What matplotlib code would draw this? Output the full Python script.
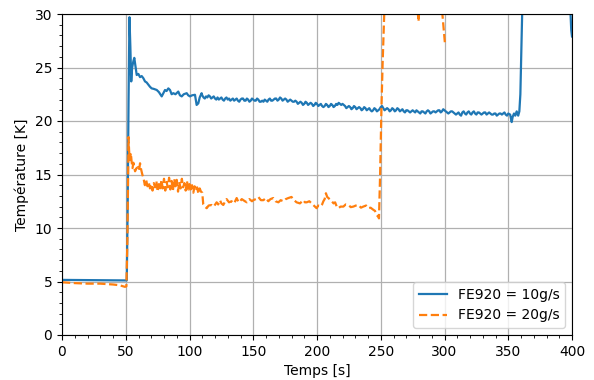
import matplotlib
matplotlib.use("Agg")
import matplotlib.pyplot as plt
from matplotlib.ticker import MultipleLocator

# FE920 = 10 g/s  (time in s, temperature in K)
t_10_start = [0, 10, 20, 30, 40, 50, 50.8, 51.5, 52.2, 52.9, 53.6, 54.3, 55, 56, 56.7, 57.5,
              58.6, 59.9, 61.2, 62.5, 63.8, 65.1, 66.4, 67.7, 69, 70.3, 72, 74.3, 76, 78.2,
              79.5, 80.8, 82, 83.4, 84.7, 86, 87.3, 89, 91.2, 92.5, 93.9, 95.5, 97.8, 99,
              100.4, 102, 104.3, 105.6, 106.9, 108, 109.5]
T_10_start = [5.15, 5.14, 5.13, 5.12, 5.11, 5.1, 5.1, 12.0, 22.0, 29.7, 27.0, 23.7, 25.0, 25.6, 25.9, 25.2,
              24.3, 24.4, 24.1, 24.2, 24.0, 23.7, 23.6, 23.4, 23.2, 23.05, 23.0, 22.9, 22.7, 22.3,
              22.6, 22.9, 22.8, 23.05, 22.9, 22.5, 22.6, 22.5, 22.75, 22.4, 22.3, 22.5, 22.6, 22.4,
              22.3, 22.4, 22.45, 21.5, 21.65, 22.2, 22.6]
t_10_mid = list(range(110, 351))
T_10_mid = [22.4, 22.2, 22.1, 22.3, 22.2, 22.4, 22.3, 22.1, 22.2, 22.3,
            22.1, 22.0, 22.2, 22.0, 22.1, 22.2, 22.0, 21.9, 22.1, 22.2,
            22.0, 22.1, 21.9, 22.0, 22.1, 21.9, 22.0, 22.1, 21.9, 21.8,
            22.0, 22.1, 22.1, 21.9, 21.9, 22.1, 22.0, 21.8, 21.9, 22.1,
            22.0, 21.9, 21.9, 22.1, 22.0, 21.8, 21.8, 21.9, 21.8, 22.0,
            21.9, 21.8, 22.0, 22.1, 21.9, 21.9, 22.0, 22.1, 22.1, 21.9,
            22.0, 22.2, 22.1, 21.9, 22.0, 22.1, 22.0, 21.8, 21.9, 22.0,
            21.9, 21.8, 21.8, 21.9, 21.8, 21.6, 21.7, 21.8, 21.7, 21.5,
            21.6, 21.8, 21.7, 21.5, 21.6, 21.7, 21.6, 21.4, 21.5, 21.7,
            21.6, 21.4, 21.5, 21.6, 21.4, 21.3, 21.4, 21.6, 21.5, 21.3,
            21.4, 21.6, 21.5, 21.3, 21.4, 21.6, 21.5, 21.7, 21.6, 21.5,
            21.6, 21.5, 21.4, 21.2, 21.3, 21.4, 21.3, 21.1, 21.2, 21.4,
            21.3, 21.1, 21.2, 21.3, 21.2, 21.0, 21.1, 21.3, 21.2, 21.0,
            21.1, 21.2, 21.0, 20.9, 21.0, 21.2, 21.1, 20.9, 21.0, 21.1,
            21.3, 21.4, 21.2, 21.0, 21.1, 21.2, 21.1, 20.9, 21.0, 21.2,
            21.1, 20.9, 21.0, 21.2, 21.1, 20.9, 21.0, 21.1, 20.9, 20.8,
            21.0, 21.0, 20.9, 20.8, 20.9, 21.0, 20.9, 20.8, 21.0, 20.9,
            20.8, 20.7, 20.9, 20.9, 20.8, 20.7, 20.9, 21.0, 20.9, 20.7,
            20.8, 20.9, 20.9, 20.8, 20.9, 21.0, 21.0, 20.8, 20.9, 21.1,
            21.0, 20.9, 20.8, 20.7, 20.8, 20.9, 20.9, 20.8, 20.7, 20.6,
            20.7, 20.8, 20.6, 20.5, 20.8, 20.9, 20.7, 20.6, 20.8, 20.9,
            20.7, 20.6, 20.8, 20.9, 20.7, 20.6, 20.8, 20.8, 20.7, 20.6,
            20.7, 20.8, 20.8, 20.6, 20.7, 20.8, 20.7, 20.6, 20.6, 20.7,
            20.7, 20.5, 20.6, 20.7, 20.7, 20.6, 20.7, 20.8, 20.6, 20.5,
            20.7]
t_10_end = [351.5, 352.7, 353.5, 354.5, 355.5, 356.6, 357.8, 358.7, 359.5, 361,
            362, 370, 380, 390, 397, 398.5, 399.4, 400]
T_10_end = [20.6, 19.9, 20.4, 20.7, 20.5, 20.9, 20.5, 20.9, 22.5, 30.5,
            33.0, 38.0, 40.0, 40.0, 38.0, 31.0, 28.5, 27.9]

# FE920 = 20 g/s
t_20 = [0, 10, 20, 30, 40, 45, 49.4, 50.5, 51.3, 51.8, 52.2, 52.6, 53, 53.3, 54, 54.6,
        55.3, 56, 57.3, 58.5, 59.9, 60.5, 61.2, 61.8,
        62, 63, 64, 65, 66, 67, 68, 69, 70, 71, 72, 73, 74, 75, 76, 77, 78, 79, 80,
        81, 82, 83, 84, 85, 86, 87, 88, 89, 90, 91, 92, 93, 94, 95, 96, 97, 98, 99,
        100, 101, 102, 103, 104, 105, 106, 107, 108, 109, 110,
        110.8, 112, 113.5, 115, 117.4, 119,
        121.3, 122.5, 123.9, 125, 126.5, 128, 129.1, 131, 133, 135, 137, 138.5, 139.6,
        141, 143.5, 145, 147, 149, 150, 152, 154, 156, 157.9, 160, 161.8, 163.5, 165.7,
        167.5, 169.7, 171.5, 173.6, 175.5, 177.5, 180, 182, 184, 186.6, 189.3, 190.5,
        191.9, 194, 195.8, 197.5, 199.7, 201, 202.4, 204, 205, 206, 207, 208, 209,
        210.5, 211.6, 213, 214.2, 215.5, 216.7, 218.5, 220.7, 222.5, 224.6, 226.5,
        228.5, 230.5, 232.4, 234.5, 236.3, 238.5, 240.3, 242, 244.2, 245.5, 246.8,
        248.1, 248.6, 249.5, 250.5, 251.5, 253, 260, 270, 278.5, 279.6, 280.5, 290,
        297.6, 300.3]
T_20 = [4.93, 4.85, 4.8, 4.8, 4.72, 4.65, 4.5, 4.55, 9.0, 14.0, 18.5, 17.3, 16.6, 16.35, 17.0, 16.2,
        15.6, 16.1, 15.3, 15.6, 15.7, 15.4, 16.05, 15.6,
        15.5, 15.0, 14.6, 14.0, 14.5, 13.9, 14.3, 13.7, 14.1, 13.5, 14.2, 13.8, 14.4, 13.4, 14.1,
        13.6, 14.5, 13.7, 14.6, 13.5, 14.3, 13.8, 14.7, 13.6, 14.4, 13.5, 14.6, 13.9, 14.5,
        13.4, 14.3, 13.7, 14.6, 13.8, 14.2, 13.5, 14.4, 13.6, 14.1, 13.4, 14.0, 13.3, 13.9,
        13.5, 13.8, 13.2, 13.7, 13.4, 13.3,
        12.2, 12.0, 11.85, 12.1, 12.15, 12.0,
        12.4, 12.2, 12.6, 12.3, 12.15, 12.5, 12.7, 12.4, 12.5, 12.3, 12.8, 12.4, 12.5,
        12.7, 12.5, 12.4, 12.7, 12.5, 12.6, 12.7, 12.9, 12.6, 12.6, 12.8, 12.5, 12.7, 12.8,
        12.5, 12.4, 12.6, 12.5, 12.7, 12.8, 12.9, 12.6, 12.4, 12.3, 12.6, 12.4,
        12.4, 12.5, 12.3, 12.1, 11.85, 12.1, 12.0, 12.2, 12.5, 12.7, 13.25, 12.9, 12.8,
        12.6, 12.5, 12.3, 12.4, 12.0, 11.85, 12.0, 12.0, 12.2, 12.15, 11.95,
        12.0, 12.1, 12.15, 11.9, 12.0, 12.1, 11.85, 11.9, 11.7, 11.6, 11.2,
        11.05, 10.9, 15.0, 21.0, 25.5, 31.0, 34.0, 34.0, 31.0, 29.3, 31.0, 34.0,
        31.0, 27.3]

labels = ["FE920 = 10g/s", "FE920 = 20g/s"]

t_10 = t_10_start + t_10_mid + t_10_end
T_10 = T_10_start + T_10_mid + T_10_end

fig = plt.figure(figsize=(5.94, 3.80), dpi=100)
ax = fig.add_axes([62/594, 1-335/380, (572-62)/594, (335-14)/380])
ax.plot(t_10, T_10, color="#1f77b4", lw=1.6, label=labels[0])
ax.plot(t_20, T_20, color="#ff7f0e", lw=1.6, ls="--", label=labels[1])
ax.set_xlim(0, 400)
ax.set_ylim(0, 30)
ax.xaxis.set_major_locator(MultipleLocator(50))
ax.xaxis.set_minor_locator(MultipleLocator(10))
ax.yaxis.set_major_locator(MultipleLocator(5))
ax.yaxis.set_minor_locator(MultipleLocator(1))
ax.grid(True, which="major", color="#b0b0b0", lw=0.9)
ax.set_axisbelow(True)
ax.set_xlabel("Temps [s]")
ax.set_ylabel("Température [K]")
ax.legend(loc="lower right")
fig.savefig("out.png", dpi=100)
